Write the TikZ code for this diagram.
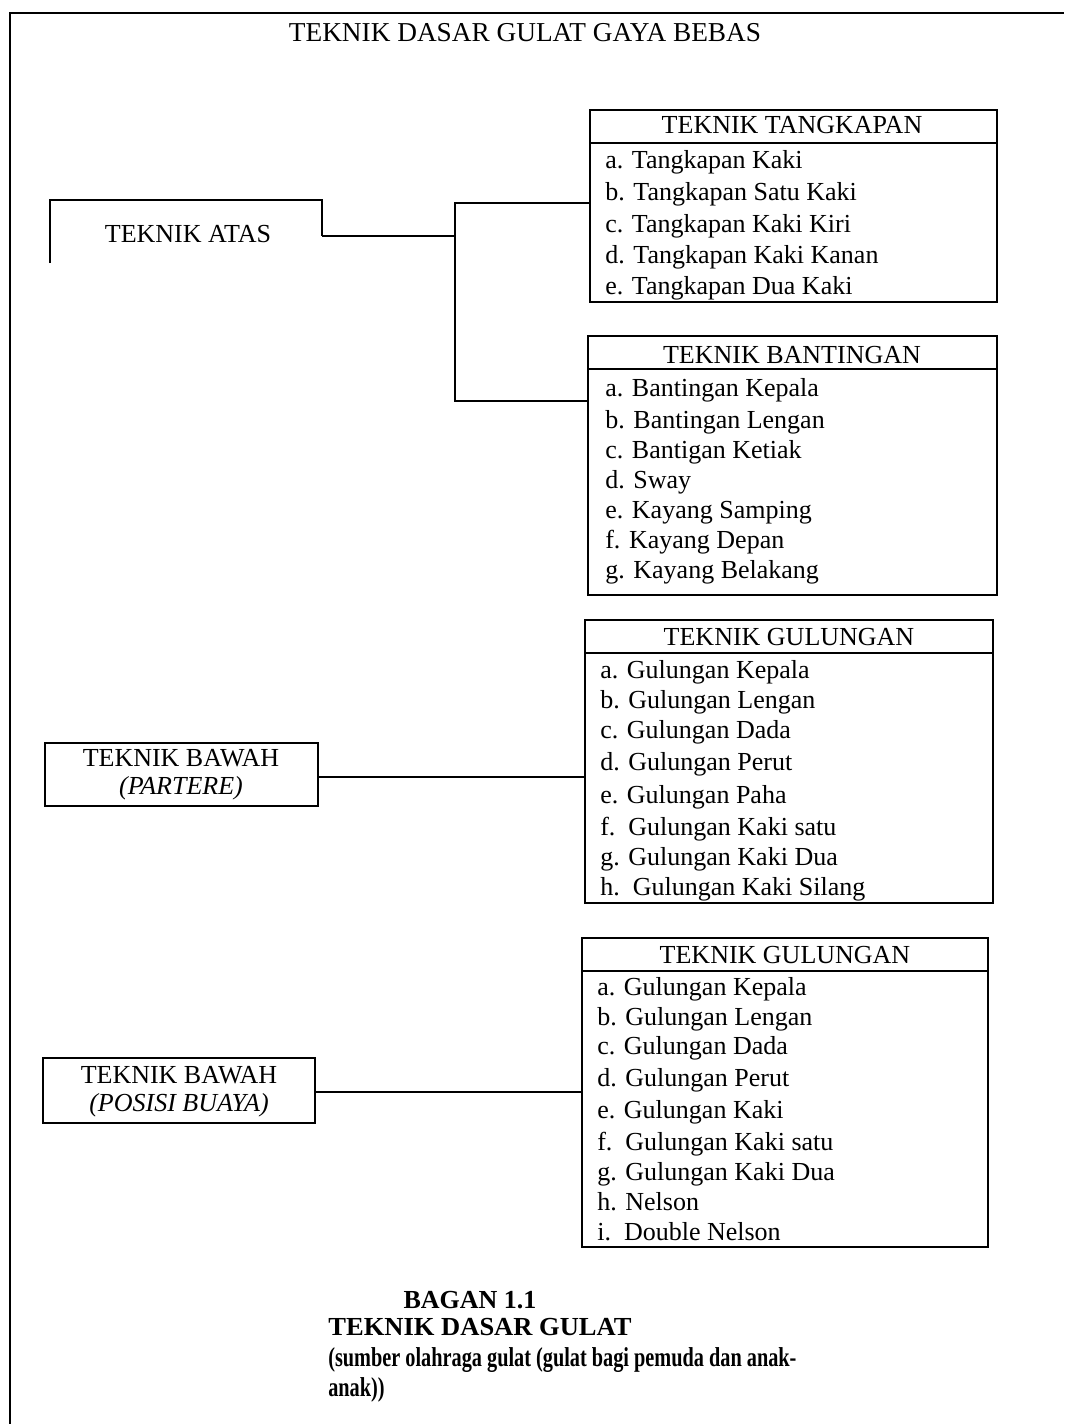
\documentclass[tikz,border=0pt]{standalone}
\usepackage{fontspec}
\setmainfont{Liberation Serif}
\usetikzlibrary{fit}
\begin{document}
\begin{tikzpicture}[x=0.75pt,y=-0.75pt,
  every node/.style={font=\fontsize{19.5}{23}\selectfont, inner sep=0pt},
  listbox/.style={draw, line width=2.1pt, inner sep=0pt, fit={#1}},
  sidebox/.style={draw, line width=1.6pt, inner sep=0pt, fit={#1}},
  divider/.style={line width=2.1pt},
  conn/.style={line width=1.5pt},
  framel/.style={line width=1.5pt},
  item/.style={anchor=base west},
  head/.style={anchor=base},
  captxt/.style={font=\fontsize{19.5}{23}\selectfont\bfseries}]
\useasboundingbox (0,0) rectangle (1064,1424);

% outer frame
\coordinate (fr-bl) at (10,1424);
\coordinate (fr-tl) at (10,13);
\coordinate (fr-tr) at (1064,13);
\draw[framel] (fr-bl) -- (fr-tl) -- (fr-tr);

% title
\node[head] (title) at (525,41) {\scalebox{1.05}[1.05]{TEKNIK DASAR GULAT GAYA BEBAS}};

% ---------- TEKNIK ATAS ----------
\node[head] (atas) at (188,242) {TEKNIK ATAS};
\coordinate (atas-a) at (50,263);
\coordinate (atas-b) at (50,200);
\coordinate (atas-c) at (322,200);
\coordinate (atas-d) at (322,236);
\draw[conn] (atas-a) -- (atas-b) -- (atas-c) -- (atas-d);
\coordinate (j0) at (455,236);
\coordinate (j1) at (455,203);
\coordinate (j2) at (455,401);

% TEKNIK TANGKAPAN box
\node[listbox={(590,110)(997,302)}] (tangkapan) {};
\draw[divider] (590,143) -- (997,143);
\node[head] (tangkapan-h) at (792,133) {TEKNIK TANGKAPAN};
\node[item] (tk1) at (605,168) {a. Tangkapan Kaki};
\node[item] (tk2) at (605,200) {b. Tangkapan Satu Kaki};
\node[item] (tk3) at (605,232) {c. Tangkapan Kaki Kiri};
\node[item] (tk4) at (605,263) {d. Tangkapan Kaki Kanan};
\node[item] (tk5) at (605,294) {e. Tangkapan Dua Kaki};

% TEKNIK BANTINGAN box
\node[listbox={(588,336)(997,595)}] (bantingan) {};
\draw[divider] (588,369) -- (997,369);
\node[head] (bantingan-h) at (792,363) {TEKNIK BANTINGAN};
\node[item] (bt1) at (605,396) {a. Bantingan Kepala};
\node[item] (bt2) at (605,428) {b. Bantingan Lengan};
\node[item] (bt3) at (605,458) {c. Bantigan Ketiak};
\node[item] (bt4) at (605,488) {d. Sway};
\node[item] (bt5) at (605,518) {e. Kayang Samping};
\node[item] (bt6) at (605,548) {f. Kayang Depan};
\node[item] (bt7) at (605,578) {g. Kayang Belakang};

% connectors of TEKNIK ATAS
\draw[conn] (atas-d) -- (j0);
\draw[conn] (tangkapan.west |- j1) -- (j1) -- (j2) -- (bantingan.west |- j2);

% ---------- TEKNIK BAWAH (PARTERE) ----------
\node[sidebox={(45,743)(318,806)}] (bawah1) {};
\node[head] (bawah1-a) at (181,766) {TEKNIK BAWAH};
\node[head] (bawah1-b) at (181,794) {\itshape (PARTERE)};

\node[listbox={(585,620)(993,903)}] (gulungan1) {};
\draw[divider] (585,653) -- (993,653);
\node[head] (gulungan1-h) at (789,645) {TEKNIK GULUNGAN};
\node[item] (g1a) at (600,678) {a. Gulungan Kepala};
\node[item] (g1b) at (600,708) {b. Gulungan Lengan};
\node[item] (g1c) at (600,738) {c. Gulungan Dada};
\node[item] (g1d) at (600,770) {d. Gulungan Perut};
\node[item] (g1e) at (600,803) {e. Gulungan Paha};
\node[item] (g1f) at (600,835) {f.\ \ Gulungan Kaki satu};
\node[item] (g1g) at (600,865) {g. Gulungan Kaki Dua};
\node[item] (g1h) at (600,895) {h.\ \ Gulungan Kaki Silang};

\coordinate (c1) at (0,777);
\draw[conn] (bawah1.east |- c1) -- (gulungan1.west |- c1);

% ---------- TEKNIK BAWAH (POSISI BUAYA) ----------
\node[sidebox={(43,1058)(315,1123)}] (bawah2) {};
\node[head] (bawah2-a) at (179,1083) {TEKNIK BAWAH};
\node[head] (bawah2-b) at (179,1111) {\itshape (POSISI BUAYA)};

\node[listbox={(582,938)(988,1247)}] (gulungan2) {};
\draw[divider] (582,971) -- (988,971);
\node[head] (gulungan2-h) at (785,963) {TEKNIK GULUNGAN};
\node[item] (g2a) at (597,995) {a. Gulungan Kepala};
\node[item] (g2b) at (597,1025) {b. Gulungan Lengan};
\node[item] (g2c) at (597,1054) {c. Gulungan Dada};
\node[item] (g2d) at (597,1086) {d. Gulungan Perut};
\node[item] (g2e) at (597,1118) {e. Gulungan Kaki};
\node[item] (g2f) at (597,1150) {f.\ \ Gulungan Kaki satu};
\node[item] (g2g) at (597,1180) {g. Gulungan Kaki Dua};
\node[item] (g2h) at (597,1210) {h. Nelson};
\node[item] (g2i) at (597,1240) {i.\ \ Double Nelson};

\coordinate (c2) at (0,1092);
\draw[conn] (bawah2.east |- c2) -- (gulungan2.west |- c2);

% ---------- caption ----------
\node[head,captxt] (cap1) at (470,1308) {BAGAN 1.1};
\node[head,captxt] (cap2) at (480,1335) {\scalebox{1.02}[1]{TEKNIK DASAR GULAT}};
\node[item,captxt] (cap3) at (328,1366) {\scalebox{0.78}[1.05]{(sumber olahraga gulat (gulat bagi pemuda dan anak-}};
\node[item,captxt] (cap4) at (328,1396) {\scalebox{0.78}[1.05]{anak))}};
\end{tikzpicture}
\end{document}
